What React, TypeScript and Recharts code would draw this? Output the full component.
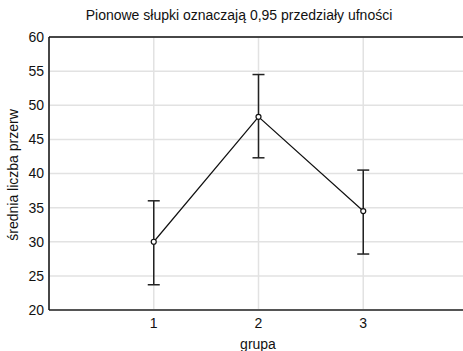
import {
  LineChart,
  Line,
  XAxis,
  YAxis,
  CartesianGrid,
  ErrorBar,
  ReferenceLine,
  Customized,
} from "recharts";

const groups = [1, 2, 3];
const means = [30.0, 48.3, 34.5];
const lowerCI = [23.7, 42.3, 28.2];
const upperCI = [36.0, 54.5, 40.5];
const yTicks = [20, 25, 30, 35, 40, 45, 50, 55, 60];

const data = groups.map((g, i) => ({
  grupa: g,
  mean: means[i],
  ci: [means[i] - lowerCI[i], upperCI[i] - means[i]],
}));

const FONT = '"Liberation Sans", Arial, sans-serif';

const Texts = () => (
  <g fontFamily={FONT} fill="#111">
    <text x={239} y={20} fontSize={14} textAnchor="middle">
      Pionowe słupki oznaczają 0,95 przedziały ufności
    </text>
    <text
      x={0}
      y={0}
      fontSize={14}
      textAnchor="middle"
      transform="translate(18, 175) rotate(-90)"
    >
      średnia liczba przerw
    </text>
    <text x={258} y={349} fontSize={14} textAnchor="middle">
      grupa
    </text>
  </g>
);

const HollowDot = (props: any) => {
  const { cx, cy } = props;
  return <circle cx={cx} cy={cy} r={2.5} fill="#fff" stroke="#111" strokeWidth={1.2} />;
};

export default function App() {
  return (
    <div style={{ position: "absolute", left: 0, top: 0, width: 463, height: 351, overflow: "hidden", background: "#fff" }}>
      <LineChart
        width={470}
        height={351}
        data={data}
        margin={{ top: 37, right: 2, bottom: 0, left: 0 }}
      >
        <CartesianGrid stroke="#e2e2e2" strokeWidth={1.5} />
        <XAxis
          dataKey="grupa"
          type="number"
          domain={[0, 4]}
          ticks={groups}
          height={41}
          axisLine={{ stroke: "#555", strokeWidth: 2 }}
          tickLine={false}
          tickSize={0}
          tickMargin={8}
          tick={{ fill: "#111", fontSize: 14, fontFamily: FONT }}
        />
        <YAxis
          type="number"
          domain={[20, 60]}
          ticks={yTicks}
          width={49}
          axisLine={{ stroke: "#111", strokeWidth: 1.5 }}
          tickLine={false}
          tickSize={0}
          tickMargin={5}
          tick={{ fill: "#111", fontSize: 14, fontFamily: FONT }}
        />
        <ReferenceLine y={60} stroke="#111" strokeWidth={1.5} />
        <Line
          dataKey="mean"
          stroke="#111"
          strokeWidth={1.2}
          dot={<HollowDot />}
          activeDot={false}
          isAnimationActive={false}
        >
          <ErrorBar dataKey="ci" direction="y" width={6} stroke="#222" strokeWidth={1.5} />
        </Line>
        <Customized component={Texts} />
      </LineChart>
    </div>
  );
}
